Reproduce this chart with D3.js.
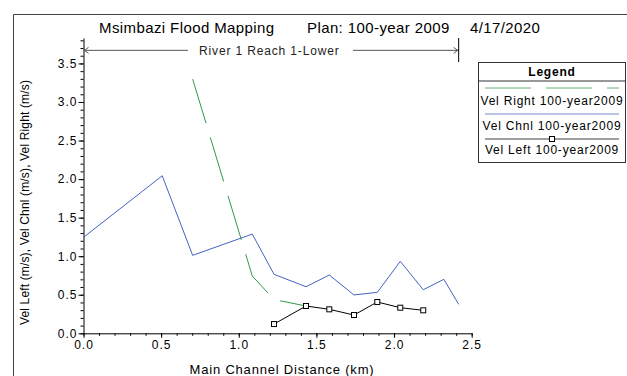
<!DOCTYPE html>
<html>
<head>
<meta charset="utf-8">
<script src="https://cdn.jsdelivr.net/npm/d3@7"></script>
<style>
  body { margin: 0; background: #fff; }
  svg { display: block; font-family: "Liberation Sans", Arial, sans-serif; }
  .tick text { font-size: 12px; letter-spacing: 1px; fill: #000; }
</style>
</head>
<body>
<svg width="627" height="376"></svg>
<script>
// distances along main channel (km)
const distChnl = [0, 0.507, 0.703, 1.087, 1.227, 1.433, 1.583, 1.742, 1.892, 2.040, 2.188, 2.321, 2.416];
const velChnl = [1.245, 2.043, 1.011, 1.287, 0.765, 0.604, 0.756, 0.497, 0.531, 0.933, 0.565, 0.700, 0.376];

const distRight = [0.703, 1.087, 1.227, 1.433];
const velRight = [3.297, 0.743, 0.438, 0.354];

const distLeft = [1.227, 1.433, 1.583, 1.742, 1.892, 2.040, 2.188];
const velLeft = [0.120, 0.354, 0.311, 0.237, 0.406, 0.332, 0.298];

const xTicks = [0, 0.5, 1.0, 1.5, 2.0, 2.5];
const yTicks = [0, 0.5, 1.0, 1.5, 2.0, 2.5, 3.0, 3.5];
const reachStart = 0, reachEnd = 2.416;

const svg = d3.select("svg");

const x = d3.scaleLinear().domain([0, 2.5]).range([83.5, 471.7]);
const y = d3.scaleLinear().domain([0, 3.83]).range([333.3, 38]);

// outer frame
svg.append("path")
   .attr("d", "M13.5,380 V14.5 H630")
   .attr("fill", "none")
   .attr("stroke", "#444")
   .attr("stroke-width", 1);

// title
const title = svg.append("g").style("font-size", "15px").style("letter-spacing", "0.4px");
title.append("text").attr("x", 99).attr("y", 33).text("Msimbazi Flood Mapping");
title.append("text").attr("x", 307).attr("y", 33).text("Plan: 100-year 2009");
title.append("text").attr("x", 470).attr("y", 33).text("4/17/2020");

// axes - minor ticks first
svg.append("g")
   .attr("transform", "translate(0,333.3)")
   .call(d3.axisBottom(x).tickValues(d3.range(0, 2.501, 0.1)).tickSize(2.5).tickFormat("").tickSizeOuter(0))
   .call(g => g.select(".domain").remove());
svg.append("g")
   .attr("transform", "translate(83.5,0)")
   .call(d3.axisLeft(y).tickValues(d3.range(0, 3.81, 0.1)).tickSize(3).tickFormat("").tickSizeOuter(0))
   .call(g => g.select(".domain").remove());

const xAxis = svg.append("g")
   .attr("transform", "translate(0,333.3)")
   .call(d3.axisBottom(x).tickValues(xTicks).tickSize(4.5).tickSizeOuter(0).tickPadding(3).tickFormat(d3.format(".1f")));
xAxis.selectAll("text").attr("dy", "0.71em");

const yAxis = svg.append("g")
   .attr("transform", "translate(83.5,0)")
   .call(d3.axisLeft(y).tickValues(yTicks).tickSize(5).tickSizeOuter(0).tickPadding(1).tickFormat(d3.format(".1f")));

svg.selectAll(".domain, .tick line").attr("stroke", "#000");

// axis titles
svg.append("text")
   .attr("transform", "translate(29,202.5) rotate(-90)")
   .attr("text-anchor", "middle")
   .style("font-size", "12px")
   .style("letter-spacing", "0.15px")
   .text("Vel Left (m/s), Vel Chnl (m/s), Vel Right (m/s)");

svg.append("text")
   .attr("x", 282)
   .attr("y", 374)
   .attr("text-anchor", "middle")
   .style("font-size", "13px")
   .style("letter-spacing", "0.8px")
   .text("Main Channel Distance (km)");

// reach marker
const ry = y(3.67);
const reach = svg.append("g").attr("stroke", "#555").attr("fill", "none");
reach.append("line").attr("x1", x(reachStart)).attr("x2", 188).attr("y1", ry).attr("y2", ry);
reach.append("line").attr("x1", 353).attr("x2", x(reachEnd)).attr("y1", ry).attr("y2", ry);
reach.append("path").attr("d", `M${x(reachStart) + 5},${ry - 3} L${x(reachStart) + 1},${ry} L${x(reachStart) + 5},${ry + 3}`);
reach.append("path").attr("d", `M${x(reachEnd) - 5},${ry - 3} L${x(reachEnd) - 1},${ry} L${x(reachEnd) - 5},${ry + 3}`);
reach.append("line").attr("x1", x(reachEnd)).attr("x2", x(reachEnd)).attr("y1", 38).attr("y2", 62).attr("stroke", "#000");
svg.append("text")
   .attr("x", 199).attr("y", ry + 4.5)
   .style("font-size", "12px")
   .style("letter-spacing", "0.85px")
   .attr("fill", "#222")
   .text("River 1 Reach 1-Lower");

// series
const line = d3.line().x(d => x(d[0])).y(d => y(d[1]));

svg.append("path")
   .datum(d3.zip(distRight, velRight))
   .attr("d", line)
   .attr("fill", "none")
   .attr("stroke", "#2f9a4a")
   .attr("stroke-dasharray", "46,15");

svg.append("path")
   .datum(d3.zip(distChnl, velChnl))
   .attr("d", line)
   .attr("fill", "none")
   .attr("stroke", "#4563c4");

const leftPts = d3.zip(distLeft, velLeft);
svg.append("path")
   .datum(leftPts)
   .attr("d", line)
   .attr("fill", "none")
   .attr("stroke", "#000");
svg.selectAll("rect.mk")
   .data(leftPts)
   .enter()
   .append("rect")
   .attr("class", "mk")
   .attr("x", d => x(d[0]) - 2.5)
   .attr("y", d => y(d[1]) - 2.5)
   .attr("width", 5)
   .attr("height", 5)
   .attr("fill", "#fff")
   .attr("stroke", "#000");

// legend
const lg = svg.append("g").attr("transform", "translate(478.5,62.5)");
lg.append("rect").attr("width", 147).attr("height", 100).attr("fill", "#fff").attr("stroke", "#333");
lg.append("line").attr("x1", 0).attr("x2", 147).attr("y1", 18.5).attr("y2", 18.5).attr("stroke", "#333");
lg.append("text").attr("x", 73.5).attr("y", 13).attr("text-anchor", "middle")
   .style("font-size", "12px").style("font-weight", "bold").style("letter-spacing", "0.8px").text("Legend");

const legendItems = [
   { name: "Vel Right 100-year2009", color: "#2f9a4a", dash: "46,15", ly: 25.5, ty: 42 },
   { name: "Vel Chnl 100-year2009", color: "#4563c4", dash: null, ly: 51.5, ty: 67.5 },
   { name: "Vel Left 100-year2009", color: "#000", dash: null, ly: 76.5, ty: 91, marker: true }
];
legendItems.forEach(it => {
   lg.append("line")
      .attr("x1", 6.5).attr("x2", 140.5).attr("y1", it.ly).attr("y2", it.ly)
      .attr("stroke", it.color).attr("stroke-opacity", 0.75)
      .attr("stroke-dasharray", it.dash);
   if (it.marker) {
      lg.append("rect").attr("x", 71).attr("y", it.ly - 2.5).attr("width", 5).attr("height", 5)
         .attr("fill", "#fff").attr("stroke", "#000");
   }
   lg.append("text").attr("x", 73.5).attr("y", it.ty).attr("text-anchor", "middle")
      .style("font-size", "12px").style("letter-spacing", "0.8px").text(it.name);
});
</script>
</body>
</html>
